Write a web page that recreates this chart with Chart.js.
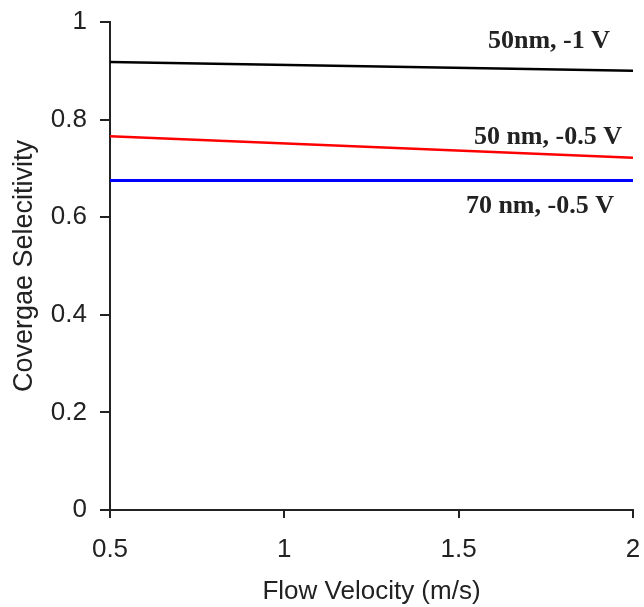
<!DOCTYPE html>
<html>
<head>
<meta charset="utf-8">
<script src="https://cdn.jsdelivr.net/npm/chart.js@4/dist/chart.umd.min.js"></script>
<style>
  html, body { margin: 0; padding: 0; background: #fff; }
  #wrap { width: 644px; height: 607px; }
</style>
</head>
<body>
<div id="wrap"><canvas id="myChart" width="644" height="607"></canvas></div>
<script>
// data
const flowVelocity = [0.5, 2];
const sel50nm1V = [0.918, 0.900];
const sel50nm05V = [0.766, 0.722];
const sel70nm05V = [0.675, 0.675];
const seriesNames = ["50nm, -1 V", "50 nm, -0.5 V", "70 nm, -0.5 V"];
const xTicks = [0.5, 1, 1.5, 2];
const yTicks = [0, 0.2, 0.4, 0.6, 0.8, 1];

function toPoints(xs, ys) {
  return xs.map((x, i) => ({ x: x, y: ys[i] }));
}

// text labels next to the lines, anchored in data coordinates
const lineLabels = {
  id: "lineLabels",
  afterDatasetsDraw(chart) {
    const ctx = chart.ctx;
    const xs = chart.scales.x;
    const ys = chart.scales.y;
    const spots = [[1.759, 0.961], [1.756, 0.764], [1.733, 0.623]];
    ctx.save();
    ctx.font = "bold 26px 'Liberation Serif', 'Times New Roman', serif";
    ctx.fillStyle = "#222";
    ctx.textAlign = "center";
    ctx.textBaseline = "middle";
    seriesNames.forEach((name, i) => {
      ctx.fillText(name, xs.getPixelForValue(spots[i][0]), ys.getPixelForValue(spots[i][1]));
    });
    ctx.restore();
  }
};

const tickFont = { size: 26, family: "'Liberation Sans', Arial, sans-serif" };
const fmt = (v) => String(v);

const ctx = document.getElementById("myChart").getContext("2d");
const myChart = new Chart(ctx, {
  type: "line",
  data: {
    datasets: [{
      label: seriesNames[0],
      data: toPoints(flowVelocity, sel50nm1V),
      borderColor: "#000000",
      borderWidth: 2.5,
      pointRadius: 0,
    }, {
      label: seriesNames[1],
      data: toPoints(flowVelocity, sel50nm05V),
      borderColor: "#ff0000",
      borderWidth: 2.5,
      pointRadius: 0,
    }, {
      label: seriesNames[2],
      data: toPoints(flowVelocity, sel70nm05V),
      borderColor: "#0000ff",
      borderWidth: 3,
      pointRadius: 0,
    }],
  },
  options: {
    responsive: false,
    animation: false,
    layout: { padding: { left: 0, right: 11, top: 22, bottom: 0 } },
    plugins: {
      legend: { display: false },
      tooltip: { enabled: false },
    },
    scales: {
      x: {
        type: "linear",
        min: 0.5,
        max: 2,
        afterBuildTicks: (scale) => { scale.ticks = xTicks.map(v => ({ value: v })); },
        afterFit: (scale) => { scale.height = 97; scale.paddingRight = 0; scale.paddingLeft = 0; },
        border: { color: "#222", width: 2 },
        grid: {
          drawOnChartArea: false,
          drawTicks: true,
          tickLength: 8,
          color: "#222",
          lineWidth: 2,
        },
        ticks: {
          color: "#222",
          padding: 16,
          maxRotation: 0,
          font: tickFont,
          callback: fmt,
        },
        title: {
          display: true,
          text: "Flow Velocity (m/s)",
          color: "#222",
          font: { size: 26, family: "'Liberation Sans', Arial, sans-serif" },
          padding: { top: 0, bottom: 0 },
        },
      },
      y: {
        min: 0,
        max: 1,
        afterBuildTicks: (scale) => { scale.ticks = yTicks.map(v => ({ value: v })); },
        afterFit: (scale) => { scale.width = 110; scale.paddingTop = 0; scale.paddingBottom = 0; },
        border: { color: "#222", width: 2 },
        grid: {
          drawOnChartArea: false,
          drawTicks: true,
          tickLength: 10,
          color: "#222",
          lineWidth: 2,
        },
        ticks: {
          color: "#222",
          padding: 13,
          font: tickFont,
          callback: fmt,
        },
        title: {
          display: true,
          text: "Covergae Selecitivity",
          color: "#222",
          font: { size: 27, family: "'Liberation Sans', Arial, sans-serif" },
          padding: { top: 8, bottom: 0 },
        },
      },
    },
  },
  plugins: [lineLabels],
});
</script>
</body>
</html>
